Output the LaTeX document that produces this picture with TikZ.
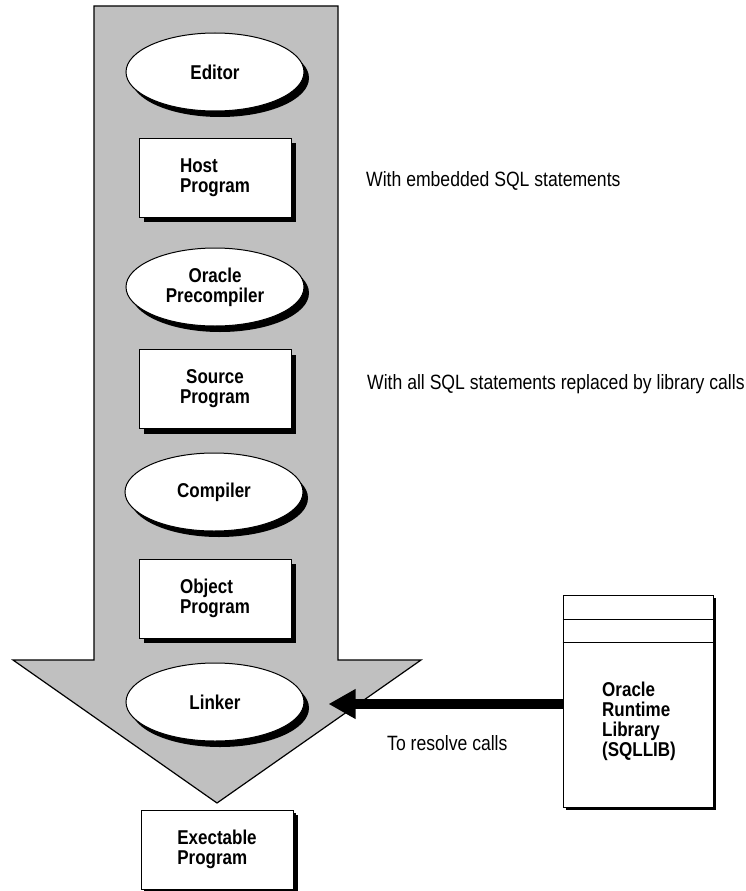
\documentclass[tikz,border=0pt]{standalone}
\usepackage{fontspec}
\setmainfont[FakeStretch=0.85]{Liberation Sans}
\usetikzlibrary{shapes.geometric,shadows,arrows.meta}
\definecolor{arrowgray}{RGB}{192,192,192}
\tikzset{
  lbl/.style={font=\fontsize{20}{20}\selectfont\bfseries},
  note/.style={font=\fontsize{20.7}{20}\selectfont, anchor=base west, inner sep=0pt},
  proc/.style={ellipse, draw, line width=1pt, fill=white, minimum width=178pt, minimum height=78pt, inner sep=0pt, lbl, align=center,
    drop shadow={shadow xshift=5pt, shadow yshift=-6pt, fill=black, opacity=1}},
  prog/.style={rectangle, draw, line width=1pt, fill=white, minimum width=152pt, minimum height=79pt, inner sep=0pt, lbl,
    drop shadow={shadow xshift=5pt, shadow yshift=-5pt, fill=black, opacity=1}},
  progsmall/.style={prog, drop shadow={shadow xshift=3pt, shadow yshift=-3pt, fill=black, opacity=1}},
  flow/.style={draw=black, line width=1.2pt, fill=arrowgray, line join=miter},
  thick arrow/.style={line width=10pt, -{Triangle[length=27pt,width=28pt]}}
}
\begin{document}
\begin{tikzpicture}[x=1pt,y=-1pt]
\useasboundingbox (0,0) rectangle (746,891);
% big flow arrow
\path[flow] (94,6) -- (338,6) -- (338,660) -- (421,660) -- (217,803) -- (13,660) -- (94,660) -- cycle;
% stages
\node[proc] (editor) at (215,72) {Editor};
\node[prog, align=left] (host) at (215,177.5) {Host\\Program};
\node[proc] (precomp) at (215,287) {Oracle\\Precompiler};
\node[prog, align=center] (source) at (215,389) {Source\\Program};
\node[proc] (compiler) at (214,492) {Compiler};
\node[prog, align=left] (object) at (215,598.5) {Object\\Program};
\node[proc] (linker) at (215,702) {Linker};
\node[progsmall, align=left] (exec) at (217,849.5) {Exectable\\Program};
% library
\node[rectangle, draw, line width=1pt, fill=white, minimum width=150pt, minimum height=212pt, inner sep=0pt,
  drop shadow={shadow xshift=3pt, shadow yshift=-3pt, fill=black, opacity=1}] (lib) at (638,701) {};
\draw[line width=1pt] ([yshift=-25pt]lib.north west) -- ([yshift=-25pt]lib.north east);
\draw[line width=1pt] ([yshift=-48pt]lib.north west) -- ([yshift=-48pt]lib.north east);
\node[lbl, align=left, anchor=west, inner sep=0pt] (libtext) at (602,721) {Oracle\\Runtime\\Library\\(SQLLIB)};
% connector
\draw[thick arrow] (lib.west |- 0,704) -- ([xshift=24pt]linker.east |- 0,704);
% notes
\node[note] (n1) at (366,186) {With embedded SQL statements};
\node[note] (n2) at (367,389) {With all SQL statements replaced by library calls};
\node[note] (n3) at (387,750) {To resolve calls};
\end{tikzpicture}
\end{document}
